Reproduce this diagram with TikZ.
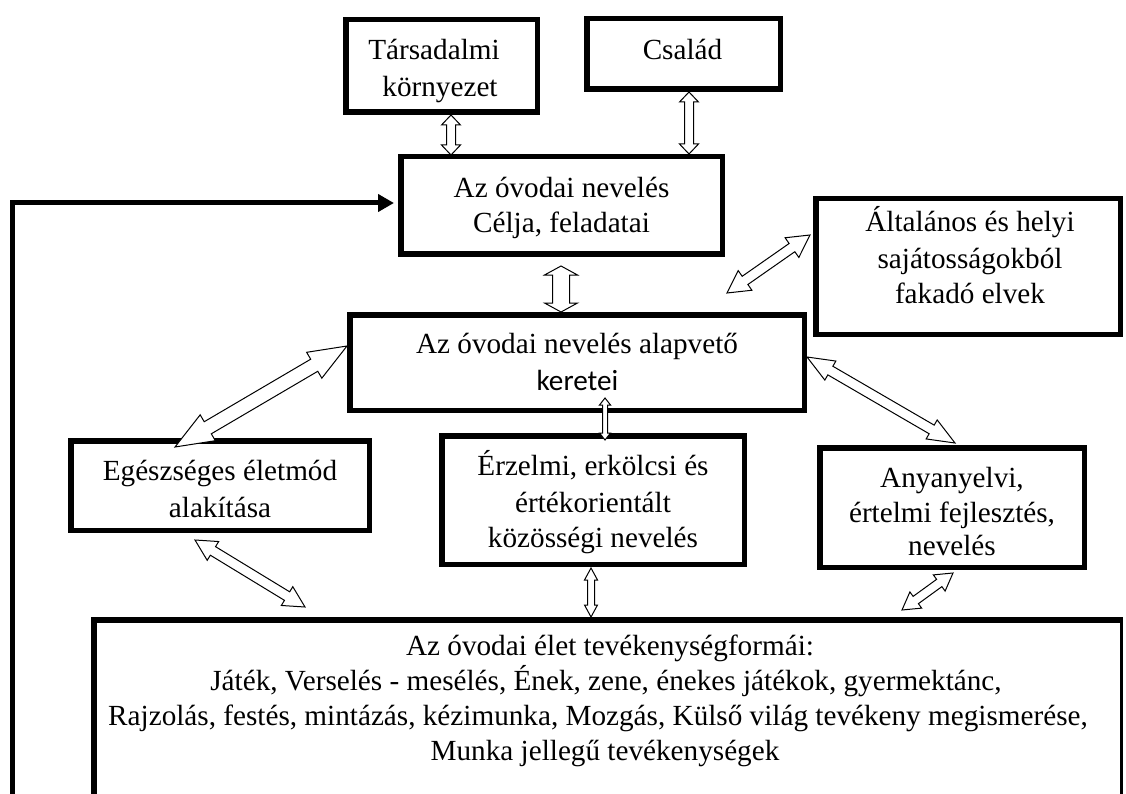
\documentclass[tikz,border=0pt]{standalone}
\usepackage{fontspec}
\setmainfont{Liberation Serif}
\newfontfamily\calibri{Carlito}
\usetikzlibrary{calc,arrows.meta}
\tikzset{
  box/.style={draw, line width=5.5pt, inner sep=0pt},
  txt/.style={inner sep=0pt, anchor=base, font=\fontsize{29.2}{35}\selectfont},
  blockarrow/.style={draw=black, fill=white, line width=1pt, line join=miter},
  feedback/.style={line width=5pt, line join=miter, -{Triangle[length=16pt,width=17pt]}},
  openbox/.style={line width=5.5pt, line join=miter},
  thinside/.style={line width=3pt}
}
% #1 end A, #2 end B, #3 head length, #4 head half width, #5 shaft half width
\newcommand{\dblarrow}[5]{%
  \coordinate (hA) at ($(#1)!#3!(#2)$);
  \coordinate (hB) at ($(#2)!#3!(#1)$);
  \filldraw[blockarrow] (#1) -- ($(hA)!#4!90:(#2)$) -- ($(hA)!#5!90:(#2)$)
    -- ($(hB)!#5!-90:(#1)$) -- ($(hB)!#4!-90:(#1)$) -- (#2)
    -- ($(hB)!#4!90:(#1)$) -- ($(hB)!#5!90:(#1)$)
    -- ($(hA)!#5!-90:(#2)$) -- ($(hA)!#4!-90:(#2)$) -- cycle;
}
\begin{document}
\begin{tikzpicture}[x=1pt,y=-1pt]
\fill[white] (0,0) rectangle (1126,794);
\useasboundingbox (0,0) rectangle (1126,794);

% boxes
\node[box, minimum width=191.5pt, minimum height=92.5pt] (tars) at (441.5,66) {};
\node[box, minimum width=193.5pt, minimum height=70.5pt] (csalad) at (683.5,54) {};
\node[box, minimum width=321.5pt, minimum height=97.5pt] (cel) at (561.5,205.5) {};
\node[box, minimum width=454.5pt, minimum height=95.5pt] (alap) at (577,362.5) {};
\node[box, minimum width=304.5pt, minimum height=135.5pt] (alt) at (968,266.5) {};
\node[box, minimum width=298.5pt, minimum height=89.5pt] (egesz) at (220,485.5) {};
\node[box, minimum width=302.5pt, minimum height=128.5pt] (erz) at (593,500) {};
\node[box, minimum width=264.5pt, minimum height=119.5pt] (anya) at (952,507.5) {};

% box texts
\node[txt] (tars1) at (434,60) {Társadalmi};
\node[txt] (tars2) at (440,97) {környezet};
\node[txt] (csalad1) at (682.5,60) {Család};
\node[txt] (cel1) at (561.5,198) {Az óvodai nevelés};
\node[txt] (cel2) at (561.5,233) {Célja, feladatai};
\node[txt] (alap1) at (577,353) {Az óvodai nevelés alapvető};
\node[txt, font=\calibri\fontsize{29.2}{35}\selectfont] (alap2) at (577.5,390) {keretei};
\node[txt] (alt1) at (970,232) {Általános és helyi};
\node[txt] (alt2) at (970,268) {sajátosságokból};
\node[txt] (alt3) at (970,303) {fakadó elvek};
\node[txt] (egesz1) at (220,480) {Egészséges életmód};
\node[txt] (egesz2) at (220,517) {alakítása};
\node[txt] (erz1) at (593,475) {Érzelmi, erkölcsi és};
\node[txt] (erz2) at (593,512) {értékorientált};
\node[txt] (erz3) at (593,547) {közösségi nevelés};
\node[txt] (anya1) at (952,487) {Anyanyelvi,};
\node[txt] (anya2) at (952,522) {értelmi fejlesztés,};
\node[txt] (anya3) at (952,555) {nevelés};

% bottom open box and its text
\coordinate (tevBL) at (93.75,794);
\coordinate (tevTL) at (93.75,619.75);
\coordinate (tevTR) at (1123,619.75);
\coordinate (tevRT) at (1121.5,617);
\coordinate (tevRB) at (1121.5,794);
\draw[openbox] (tevBL) -- (tevTL) -- (tevTR);
\draw[thinside] (tevRT) -- (tevRB);
\node[txt] (tev1) at (610,655) {Az óvodai élet tevékenységformái:};
\node[txt] (tev2) at (606,690) {Játék, Verselés - mesélés, Ének, zene, énekes játékok, gyermektánc,};
\node[txt] (tev3) at (598,725) {Rajzolás, festés, mintázás, kézimunka, Mozgás, Külső világ tevékeny megismerése,};
\node[txt] (tev4) at (605,760) {Munka jellegű tevékenységek};

% feedback line
\coordinate (fbstart) at (12,794);
\draw[feedback] (fbstart) |- ([xshift=-4pt,yshift=2.5pt]cel.west);

% arrow ends
\coordinate (t1a) at (451,115);  \coordinate (t1b) at (451,155);
\coordinate (c1a) at (689,92);   \coordinate (c1b) at (689,154);
\coordinate (ca) at (561,266);   \coordinate (cb) at (561,312);
\coordinate (ea) at (347,346);   \coordinate (eb) at (175,447);
\coordinate (la) at (727,293);   \coordinate (lb) at (810,235);
\coordinate (na) at (807,357);   \coordinate (nb) at (955,443);
\coordinate (za) at (605,398);   \coordinate (zb) at (605,440);
\coordinate (ba) at (591,568);   \coordinate (bb) at (591,617);
\coordinate (ga) at (195,540);   \coordinate (gb) at (305,607);
\coordinate (ya) at (953,573);   \coordinate (yb) at (902,610);

\dblarrow{t1a}{t1b}{10pt}{9.5pt}{4.5pt}
\dblarrow{c1a}{c1b}{10pt}{9.5pt}{4.5pt}
\dblarrow{ca}{cb}{9pt}{16.5pt}{8.5pt}
\dblarrow{ea}{eb}{38pt}{15pt}{7pt}
\dblarrow{la}{lb}{22pt}{12pt}{5pt}
\dblarrow{na}{nb}{27pt}{11pt}{5pt}
\dblarrow{za}{zb}{7pt}{5.5pt}{2.5pt}
\dblarrow{ba}{bb}{12pt}{6.5pt}{3.5pt}
\dblarrow{ga}{gb}{21pt}{11pt}{5pt}
\dblarrow{ya}{yb}{17pt}{10pt}{4.5pt}
\end{tikzpicture}
\end{document}
